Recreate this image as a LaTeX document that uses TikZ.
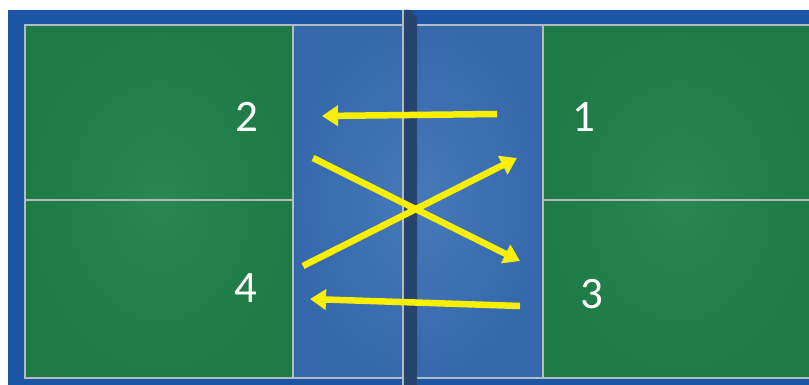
\documentclass[tikz,border=0pt]{standalone}
\usepackage{fontspec}
\setmainfont{Carlito}
\usetikzlibrary{arrows.meta}
\definecolor{outerblue}{HTML}{1B55A3}
\definecolor{kitchenblue}{HTML}{3669AC}
\definecolor{kitchenlight}{HTML}{4679B9}
\definecolor{courtgreen}{HTML}{1F7B45}
\definecolor{courtlight}{HTML}{288650}
\definecolor{lineclr}{HTML}{B4BCC2}
\definecolor{netdark}{HTML}{27436E}
\definecolor{arrowyellow}{HTML}{F8F000}
\tikzset{
  courtline/.style={draw=lineclr, line width=2.6pt},
  shot/.style={draw=arrowyellow, line width=6.5pt, -{Triangle[length=16pt,width=20pt]}},
  num/.style={text=white, font=\fontsize{45}{45}\selectfont, inner sep=0pt}
}
\begin{document}
\begin{tikzpicture}[x=1pt,y=-1pt]
\useasboundingbox (0,0) rectangle (809,385);
\fill[white] (0,0) rectangle (809,385);
% outer blue surround
\fill[outerblue] (8,10) rectangle (809,385);
% green halves
\shade[inner color=courtlight, outer color=courtgreen] (25,25) rectangle (293,378);
\shade[inner color=courtlight, outer color=courtgreen] (543,25) rectangle (815,378);
% kitchen
\shade[inner color=kitchenlight, outer color=kitchenblue] (293,25) rectangle (543,378);
% lines
\draw[courtline] (25,25) rectangle (815,378);
\draw[courtline] (293,25) -- (293,378);
\draw[courtline] (543,25) -- (543,378);
\draw[courtline] (25,200) -- (293,200);
\draw[courtline] (543,200) -- (815,200);
% net
\fill[netdark] (404,10) -- (410,10) -- (417,18) -- (417,385) -- (404,385) -- cycle;
\draw[lineclr, line width=2.2pt] (403,10) -- (403,385);
% shot end points
\coordinate (a1) at (497,114);
\coordinate (a2) at (322,116);
\coordinate (b1) at (313,158);
\coordinate (b2) at (520,261);
\coordinate (c1) at (303,266);
\coordinate (c2) at (517,158);
\coordinate (d1) at (520,306);
\coordinate (d2) at (310,299);
\draw[shot] (a1) -- (a2);
\draw[shot] (b1) -- (b2);
\draw[shot] (c1) -- (c2);
\draw[shot] (d1) -- (d2);
% labels
\node[num] (n2) at (247,117) {2};
\node[num] (n1) at (584,117) {1};
\node[num] (n4) at (246,288) {4};
\node[num] (n3) at (592,294) {3};
\end{tikzpicture}
\end{document}
